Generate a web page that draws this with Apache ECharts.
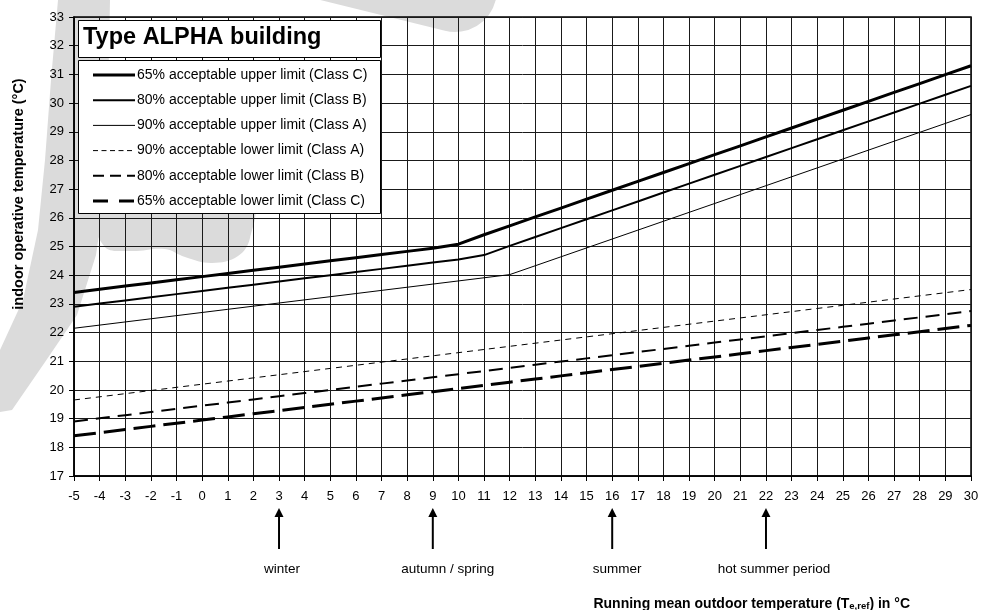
<!DOCTYPE html>
<html>
<head>
<meta charset="utf-8">
<script src="https://cdn.jsdelivr.net/npm/echarts@6/dist/echarts.min.js"></script>
<style>
  html, body { margin: 0; padding: 0; background: #fff; }
  #chart { width: 987px; height: 610px; }
</style>
</head>
<body>
<div id="chart"></div>
<script>
// Running mean outdoor temperature (°C), one point per degree
const teRef = [-5,-4,-3,-2,-1,0,1,2,3,4,5,6,7,8,9,10,11,12,13,14,15,16,17,18,19,20,21,22,23,24,25,26,27,28,29,30];

// Indoor operative temperature limits (°C)
const upperC65 = [23.40,23.51,23.62,23.73,23.84,23.95,24.06,24.17,24.28,24.39,24.50,24.61,24.72,24.83,24.94,25.08,25.41,25.72,26.03,26.34,26.65,26.96,27.27,27.58,27.89,28.20,28.51,28.82,29.13,29.44,29.75,30.06,30.37,30.68,30.99,31.30];
const upperB80 = [22.90,23.01,23.12,23.23,23.34,23.45,23.56,23.67,23.78,23.89,24.00,24.11,24.22,24.33,24.44,24.55,24.70,25.02,25.33,25.64,25.95,26.26,26.57,26.88,27.19,27.50,27.81,28.12,28.43,28.74,29.05,29.36,29.67,29.98,30.29,30.60];
const upperA90 = [22.15,22.26,22.37,22.48,22.59,22.70,22.81,22.92,23.03,23.14,23.25,23.36,23.47,23.58,23.69,23.80,23.91,24.02,24.33,24.64,24.95,25.26,25.57,25.88,26.19,26.50,26.81,27.12,27.43,27.74,28.05,28.36,28.67,28.98,29.29,29.60];
const lowerA90 = [19.65,19.76,19.87,19.98,20.09,20.20,20.31,20.42,20.53,20.64,20.75,20.86,20.97,21.08,21.19,21.30,21.41,21.52,21.63,21.74,21.85,21.96,22.07,22.18,22.29,22.40,22.51,22.62,22.73,22.84,22.95,23.06,23.17,23.28,23.39,23.50];
const lowerB80 = [18.90,19.01,19.12,19.23,19.34,19.45,19.56,19.67,19.78,19.89,20.00,20.11,20.22,20.33,20.44,20.55,20.66,20.77,20.88,20.99,21.10,21.21,21.32,21.43,21.54,21.65,21.76,21.87,21.98,22.09,22.20,22.31,22.42,22.53,22.64,22.75];
const lowerC65 = [18.40,18.51,18.62,18.73,18.84,18.95,19.06,19.17,19.28,19.39,19.50,19.61,19.72,19.83,19.94,20.05,20.16,20.27,20.38,20.49,20.60,20.71,20.82,20.93,21.04,21.15,21.26,21.37,21.48,21.59,21.70,21.81,21.92,22.03,22.14,22.25];

const seriesNames = [
  '65% acceptable upper limit (Class C)',
  '80% acceptable upper limit (Class B)',
  '90% acceptable upper limit (Class A)',
  '90% acceptable lower limit (Class A)',
  '80% acceptable lower limit (Class B)',
  '65% acceptable lower limit (Class C)'
];

// Season markers along the outdoor temperature axis
const seasonTemps = [3, 9, 16, 22];
const seasonNames = ['winter', 'autumn / spring', 'summer', 'hot summer period'];

const chartTitle = 'Type ALPHA building';
const yAxisTitle = 'indoor operative temperature (°C)';

const FONT = '"Liberation Sans", Arial, Helvetica, sans-serif';

const seriesValues = [upperC65, upperB80, upperA90, lowerA90, lowerB80, lowerC65];
const lineWidths = [3, 2, 1, 1, 2, 3];
const lineDashes = [null, null, null, [6, 5], [14, 8], [22, 8]];
const keyDashes  = [null, null, null, [5, 3.5], [11, 6], [15, 11]];

const chart = echarts.init(document.getElementById('chart'), null, { renderer: 'canvas' });

chart.setOption({
  animation: false,
  backgroundColor: '#fff',
  grid: { left: 74, right: 16, top: 17, bottom: 134, containLabel: false,
          show: true, borderColor: '#000', borderWidth: 1.5, backgroundColor: 'transparent' },
  xAxis: {
    type: 'value', min: -5, max: 30, interval: 1,
    axisLine: { show: true, onZero: false, lineStyle: { color: '#000', width: 1.5 } },
    axisTick: { show: true, inside: false, length: 5, lineStyle: { color: '#000' } },
    axisLabel: { color: '#000', fontSize: 13, fontFamily: FONT, margin: 14 },
    splitLine: { show: true, lineStyle: { color: '#1a1a1a', width: 1 } }
  },
  yAxis: {
    type: 'value', min: 17, max: 33, interval: 1,
    axisLine: { show: true, onZero: false, lineStyle: { color: '#000', width: 1.5 } },
    axisTick: { show: true, inside: false, length: 5, lineStyle: { color: '#000' } },
    axisLabel: { color: '#000', fontSize: 13, fontFamily: FONT, margin: 10 },
    splitLine: { show: true, lineStyle: { color: '#1a1a1a', width: 1 } }
  },
  series: seriesNames.map((name, i) => ({
    name: name,
    type: 'line',
    symbol: 'none',
    data: teRef.map((t, k) => [t, seriesValues[i][k]]),
    lineStyle: { color: '#000', width: lineWidths[i], type: lineDashes[i] || 'solid', cap: 'butt' },
    z: 3
  }))
});

const g = [];

// Pale backdrop emblem behind the plot
const SHADE = '#dbdbdb';
g.push({ type: 'polygon', z: -5, silent: true,
         shape: { points: [[58,0],[51,80],[45,160],[38,230],[23,300],[0,350],[0,412],[12,410],[43,365],[77,315],[96,255],[104,200],[108,100],[110,0]] },
         style: { fill: SHADE } });
g.push({ type: 'polygon', z: -5, silent: true, shape: { smooth: 0.4,
         points: [[95,205],[250,205],[250,238],[238,256],[212,263],[185,257],[165,249],[130,251],[104,246]] },
         style: { fill: SHADE } });
g.push({ type: 'line', z: -5, silent: true, shape: { x1: 212, y1: -70, x2: 455, y2: -10 },
         style: { stroke: SHADE, lineWidth: 84, lineCap: 'round' } });

// Title box
g.push({ type: 'rect', shape: { x: 78.5, y: 20.5, width: 302, height: 37 },
         style: { fill: '#fff', stroke: '#000', lineWidth: 1 }, z: 8 });
g.push({ type: 'text', x: 83, y: 38, z: 9,
         style: { text: chartTitle, font: 'bold 23.5px ' + FONT, fill: '#000', verticalAlign: 'middle' } });

// Key box with one line sample per series
g.push({ type: 'rect', shape: { x: 78.5, y: 60.5, width: 302, height: 153 },
         style: { fill: '#fff', stroke: '#000', lineWidth: 1 }, z: 8 });
seriesNames.forEach((name, i) => {
  const y = 75 + i * 25.2;
  g.push({ type: 'line', z: 9, shape: { x1: 93, y1: y, x2: 135, y2: y },
           style: { stroke: '#000', lineWidth: lineWidths[i], lineDash: keyDashes[i], lineCap: 'butt' } });
  g.push({ type: 'text', x: 137, y: y, z: 9,
           style: { text: name, font: '14px ' + FONT, fill: '#000', verticalAlign: 'middle' } });
});

// Axis titles
g.push({ type: 'text', x: 19, y: 194, rotation: Math.PI / 2, z: 9,
         style: { text: yAxisTitle, font: 'bold 14.5px ' + FONT, fill: '#000', align: 'center', verticalAlign: 'middle' } });
g.push({ type: 'text', x: 910, y: 603, z: 9,
         style: {
           text: '{b|Running mean outdoor temperature (T}{s|e,ref}{b|) in °C}',
           align: 'right', verticalAlign: 'middle',
           rich: {
             b: { font: 'bold 14px ' + FONT, fill: '#000', verticalAlign: 'bottom', lineHeight: 16 },
             s: { font: 'bold 9.5px ' + FONT, fill: '#000', verticalAlign: 'bottom', lineHeight: 15 }
           }
         } });

// Season arrows below the temperature axis
const labelShift = [3, 15, 5, 8];
seasonTemps.forEach((t, i) => {
  const px = chart.convertToPixel({ xAxisIndex: 0 }, t);
  g.push({ type: 'line', z: 9, shape: { x1: px, y1: 549, x2: px, y2: 515 },
           style: { stroke: '#000', lineWidth: 2 } });
  g.push({ type: 'polygon', z: 9, shape: { points: [[px, 508], [px - 4.5, 517], [px + 4.5, 517]] },
           style: { fill: '#000' } });
  g.push({ type: 'text', x: px + labelShift[i], y: 569, z: 9,
           style: { text: seasonNames[i], font: '13.5px ' + FONT, fill: '#000', align: 'center', verticalAlign: 'middle' } });
});

chart.setOption({ graphic: { elements: g } });
</script>
</body>
</html>
